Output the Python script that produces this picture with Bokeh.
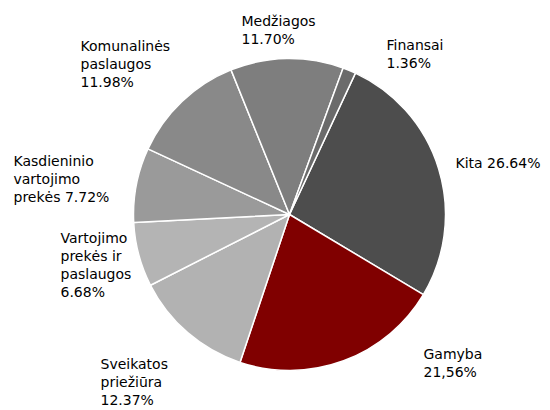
from bokeh.plotting import figure
from bokeh.models import Range1d, ColumnDataSource
from bokeh.core.properties import value
from bokeh.embed import file_html
from bokeh.resources import INLINE
import math

# ---- data ----
categories = ["Kita", "Gamyba", "Sveikatos priežiūra", "Vartojimo prekės ir paslaugos",
              "Kasdieninio vartojimo prekės", "Komunalinės paslaugos", "Medžiagos", "Finansai"]
shares = [26.64, 21.56, 12.37, 6.68, 7.72, 11.98, 11.70, 1.36]
labels = ["Kita 26.64%", "Gamyba\n21,56%", "Sveikatos\npriežiūra\n12.37%",
          "Vartojimo\nprekės ir\npaslaugos\n6.68%", "Kasdieninio\nvartojimo\nprekės 7.72%",
          "Komunalinės\npaslaugos\n11.98%", "Medžiagos\n11.70%", "Finansai\n1.36%"]
colors = ["#4d4d4d", "#800000", "#b2b2b2", "#b4b4b4", "#9a9a9a", "#898989", "#7e7e7e", "#6b6b6b"]

# ---- layout (screen pixels, y down) ----
W, H = 550, 410
CX, CY, R = 289, 214, 156
START_DEG = 65.0  # math angle of first slice start
label_pos = [(455, 162), (423, 353), (100, 363), (60, 237), (13, 160), (80, 45), (241, 20), (386, 44)]
LINE_STEP = 18

p = figure(width=W, height=H, x_range=Range1d(0, W), y_range=Range1d(0, H),
           output_backend="svg", toolbar_location=None, min_border=0)
p.axis.visible = False
p.grid.visible = False
p.outline_line_color = None
p.background_fill_color = "white"

total = sum(shares)
cum = 0.0
starts, ends = [], []
for s in shares:
    a0 = math.radians(START_DEG - cum / total * 360.0)
    cum += s
    a1 = math.radians(START_DEG - cum / total * 360.0)
    starts.append(a0)
    ends.append(a1)

src = ColumnDataSource(dict(start=starts, end=ends, color=colors, cat=categories))
p.wedge(x=CX, y=H - CY, radius=R, start_angle="start", end_angle="end", direction="clock",
        fill_color="color", line_color="white", line_width=1.5, source=src)

tx, ty, tt = [], [], []
for lab, (lx, ly) in zip(labels, label_pos):
    for i, line in enumerate(lab.split("\n")):
        tx.append(lx)
        ty.append(H - (ly + i * LINE_STEP))
        tt.append(line)
p.text(x=tx, y=ty, text=tt, text_font=value("DejaVu Sans"), text_font_size="14px",
       text_baseline="middle", text_align="left", text_color="black")

open("out.html", "w").write(file_html(p, INLINE))
